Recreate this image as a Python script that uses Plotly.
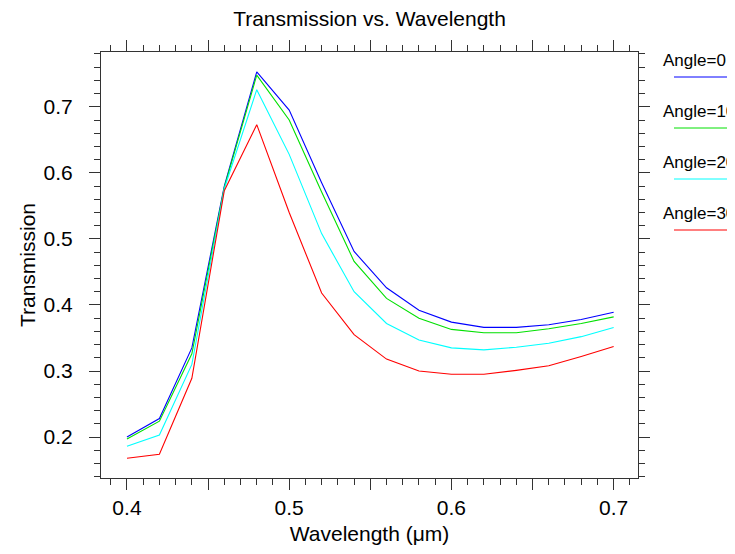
import plotly.graph_objects as go

wavelength = [0.40, 0.42, 0.44, 0.46, 0.48, 0.50, 0.52, 0.54, 0.56, 0.58, 0.60, 0.62, 0.64, 0.66, 0.68, 0.70]
angle0 = [0.200, 0.228, 0.335, 0.580, 0.753, 0.695, 0.585, 0.481, 0.426, 0.392, 0.374, 0.366, 0.366, 0.370, 0.378, 0.389]
angle10 = [0.197, 0.224, 0.326, 0.578, 0.748, 0.680, 0.571, 0.466, 0.410, 0.380, 0.363, 0.358, 0.358, 0.364, 0.372, 0.382]
angle20 = [0.186, 0.203, 0.310, 0.576, 0.726, 0.628, 0.508, 0.420, 0.372, 0.347, 0.335, 0.332, 0.336, 0.342, 0.352, 0.366]
angle30 = [0.168, 0.174, 0.289, 0.573, 0.673, 0.540, 0.418, 0.355, 0.318, 0.300, 0.295, 0.295, 0.301, 0.308, 0.322, 0.337]

series_names = ["Angle=0", "Angle=10", "Angle=20", "Angle=30"]
series_values = [angle0, angle10, angle20, angle30]
series_colors = ["#0000ff", "#00e000", "#00ffff", "#ff0000"]

x_tickvals = [0.40, 0.45, 0.50, 0.55, 0.60, 0.65, 0.70]
x_ticktext = ["0.4", "", "0.5", "", "0.6", "", "0.7"]
y_tickvals = [0.2, 0.3, 0.4, 0.5, 0.6, 0.7]
y_ticktext = ["0.2", "0.3", "0.4", "0.5", "0.6", "0.7"]

FONT = "Arial, Liberation Sans, sans-serif"
OFF = 8  # page body margin
W, H = 735 - OFF, 554 - OFF
L, R, T, B = 101 - OFF, 97, 52 - OFF, 76
pw, ph = W - L - R, H - T - B

fig = go.Figure()
for name, vals, col in zip(series_names, series_values, series_colors):
    fig.add_trace(go.Scatter(x=wavelength, y=vals, mode="lines", name=name,
                             line=dict(color=col, width=1.1), showlegend=False))

# custom legend: text with line underneath, to the right of the plot
for i, (name, col) in enumerate(zip(series_names, series_colors)):
    ty = 60 - OFF + i * 51
    ly = 77 - OFF + i * 51
    fig.add_annotation(text=name, xref="paper", yref="paper",
                       x=(661 - OFF - L) / pw, y=(H - B - ty) / ph,
                       xanchor="left", yanchor="middle", showarrow=False,
                       font=dict(family=FONT, size=17, color="#000000"))
    fig.add_shape(type="line", xref="paper", yref="paper",
                  x0=(674 - OFF - L) / pw, x1=(W - L) / pw,
                  y0=(H - B - ly) / ph, y1=(H - B - ly) / ph,
                  line=dict(color=col, width=1))

axis_common = dict(showgrid=False, zeroline=False, showline=True, linecolor="#333333",
                   linewidth=1, mirror="ticks", ticks="outside", ticklen=11, tickwidth=1,
                   tickcolor="#333333", tickfont=dict(family=FONT, size=21, color="#000000"))

fig.update_xaxes(range=[0.384, 0.715], tickmode="array", tickvals=x_tickvals, ticktext=x_ticktext,
                 minor=dict(dtick=0.01, ticks="outside", ticklen=6, tickcolor="#333333", showgrid=False),
                 title=dict(text="Wavelength (μm)", font=dict(family=FONT, size=21, color="#000000"), standoff=8),
                 **axis_common)
fig.update_yaxes(range=[0.138, 0.783], tickmode="array", tickvals=y_tickvals, ticktext=y_ticktext,
                 minor=dict(dtick=0.02, tick0=0.2, ticks="outside", ticklen=6, tickcolor="#333333", showgrid=False),
                 ticklabelstandoff=12,
                 title=dict(text="Transmission", font=dict(family=FONT, size=21, color="#000000"), standoff=2),
                 **axis_common)

fig.update_layout(
    width=W, height=H,
    margin=dict(l=L, r=R, t=T, b=B, autoexpand=False),
    paper_bgcolor="white", plot_bgcolor="white",
    title=dict(text="Transmission vs. Wavelength", x=0.5, xref="paper", xanchor="center",
               y=1 - (19 - OFF) / H, yref="container", yanchor="middle",
               font=dict(family=FONT, size=21, color="#000000")),
    showlegend=False,
)

fig.write_html("out.html")
